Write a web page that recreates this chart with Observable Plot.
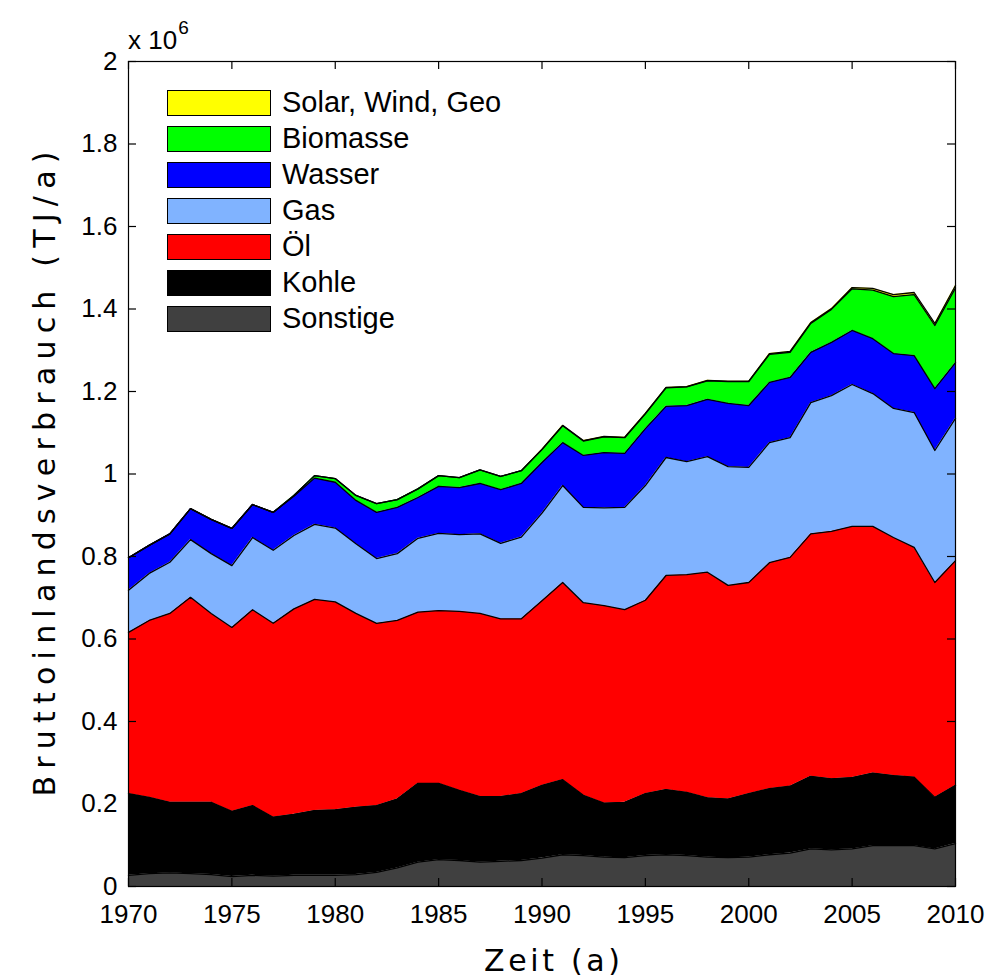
<!DOCTYPE html>
<html><head><meta charset="utf-8">
<script src="https://cdn.jsdelivr.net/npm/d3@7"></script>
<script src="https://cdn.jsdelivr.net/npm/@observablehq/plot@0.6"></script>
<style>
body{margin:0;background:#fff;}
#wrap{position:relative;width:991px;height:978px;font-family:"Liberation Sans",Arial,sans-serif;}
#leg{position:absolute;left:167px;top:89px;}
.row{display:flex;align-items:center;height:36px;}
.row:first-child{margin-top:-4.5px;}
.sw{width:102px;height:24px;border:1.5px solid #000;}
.lab{margin-left:11px;font-size:29px;color:#000;line-height:1;}
#exp{position:absolute;left:128px;top:22px;font-size:26px;color:#000;}
#exp sup{font-size:19px;position:relative;top:-5px;margin-left:1px;}
</style></head><body><div id="wrap"></div><script>
// years and series values (in 10^3 TJ/a)
const years = [1970,1971,1972,1973,1974,1975,1976,1977,1978,1979,1980,1981,1982,1983,1984,1985,1986,1987,1988,1989,1990,1991,1992,1993,1994,1995,1996,1997,1998,1999,2000,2001,2002,2003,2004,2005,2006,2007,2008,2009,2010];
const sonstige = [27,31,33,31,29,24,27,25,27,27, 27,29,34,45,59,65,63,59,61,63, 69,77,75,71,70,75,77,75,71,70, 71,77,81,91,89,91,99,99,99,91,104];
const kohle    = [198,185,171,173,175,158,169,143,148,157, 159,163,162,167,191,185,170,159,157,162, 176,182,146,131,134,150,158,153,144,142, 154,160,162,176,172,173,176,170,166,125,141];
const oel      = [391,429,458,497,458,446,475,470,498,512, 504,470,442,433,415,419,434,444,431,424, 448,478,467,479,467,469,519,528,547,518, 512,548,555,588,600,609,598,577,557,521,545];
const gas      = [102,114,124,140,145,150,175,177,178,182, 179,169,157,162,179,187,186,193,183,198, 212,235,231,237,248,278,286,274,280,288, 279,291,290,318,329,344,322,313,327,320,345];
const wasser   = [79,68,69,75,83,90,80,92,95,112, 111,105,112,112,99,114,114,122,130,130, 123,104,126,134,131,138,124,136,139,153, 150,146,146,122,129,131,133,133,138,150,135];
const biomasse = [0,0,0,0,0,0,0,0,2,6, 9,12,21,19,21,26,24,33,32,31, 31,41,35,38,38,36,45,45,45,53, 58,68,61,70,80,101,118,138,148,153,181];
const solar    = [0,0,0,0,0,0,0,0,0,0, 0,0,0,0,0,0,0,0,0,0, 1,1,1,1,1,1,1,1,1,1, 1,2,2,2,2,3,4,5,5,5,6];

const seriesNames = ["Sonstige","Kohle","Öl","Gas","Wasser","Biomasse","Solar, Wind, Geo"];
const seriesValues = [sonstige, kohle, oel, gas, wasser, biomasse, solar];
const seriesColors = ["#404040","#000000","#ff0000","#80b3ff","#0000ff","#00ff00","#ffff00"];
const xTicks = [1970,1975,1980,1985,1990,1995,2000,2005,2010];
const yTicks = [0,200000,400000,600000,800000,1000000,1200000,1400000,1600000,1800000,2000000];

const table = [];
seriesNames.forEach((name, i) => {
  years.forEach((yr, j) => table.push({year: yr, value: seriesValues[i][j] * 1e3, series: name}));
});

const W = 991, H = 978, ML = 128, MR = 36, MT = 61, MB = 92, TL = 8;
const frameW = W - ML - MR, frameH = H - MT - MB;

const plot = Plot.plot({
  width: W, height: H,
  marginLeft: ML, marginRight: MR, marginTop: MT, marginBottom: MB,
  style: {fontFamily: '"Liberation Sans", Arial, sans-serif', fontSize: "26px", color: "#000", background: "#fff"},
  x: {domain: [1970, 2010]},
  y: {domain: [0, 2000000]},
  color: {domain: seriesNames, range: seriesColors},
  marks: [
    Plot.areaY(table, {x: "year", y: "value", z: "series", fill: "series", order: seriesNames}),
    Plot.lineY(table, Plot.stackY2({x: "year", y: "value", z: "series", order: seriesNames, stroke: "#000", strokeWidth: 1.3})),
    // inward ticks on all four sides
    Plot.tickX(xTicks, {x: d => d, insetTop: frameH - TL, stroke: "#000", strokeWidth: 1.2}),
    Plot.tickX(xTicks, {x: d => d, insetBottom: frameH - TL, stroke: "#000", strokeWidth: 1.2}),
    Plot.tickY(yTicks, {y: d => d, insetRight: frameW - TL, stroke: "#000", strokeWidth: 1.2}),
    Plot.tickY(yTicks, {y: d => d, insetLeft: frameW - TL, stroke: "#000", strokeWidth: 1.2}),
    Plot.frame({stroke: "#000", strokeWidth: 1.2}),
    Plot.axisX({anchor: "bottom", ticks: xTicks, tickFormat: d => String(d), tickSize: 0, tickPadding: 18, label: "Zeit (a)", labelAnchor: "center", labelArrow: "none", labelOffset: 84}),
    Plot.axisY({anchor: "left", ticks: yTicks, tickFormat: d => String(d / 1e6), tickSize: 0, tickPadding: 11, label: "Bruttoinlandsverbrauch (TJ/a)", labelAnchor: "center", labelArrow: "none", labelOffset: 95})
  ]
});

const wrap = document.getElementById("wrap");
wrap.appendChild(plot);

// axis label styling
const xl = plot.querySelector('g[aria-label="x-axis label"] text');
const yl = plot.querySelector('g[aria-label="y-axis label"] text');
[xl, yl].forEach(t => { if (t) { t.style.fontFamily = '"DejaVu Sans", sans-serif'; t.style.fontSize = "30px"; } });
if (yl) { yl.setAttribute("textLength", 645); yl.setAttribute("lengthAdjust", "spacing"); }
if (xl) { xl.setAttribute("textLength", 136); xl.setAttribute("lengthAdjust", "spacing"); xl.setAttribute("dx", 10); }

// exponent label
const exp = document.createElement("div");
exp.id = "exp";
exp.innerHTML = "x 10<sup>6</sup>";
wrap.appendChild(exp);

// legend (top to bottom: reversed stacking order)
const leg = document.createElement("div");
leg.id = "leg";
seriesNames.slice().reverse().forEach(name => {
  const row = document.createElement("div"); row.className = "row";
  const sw = document.createElement("div"); sw.className = "sw";
  sw.style.background = seriesColors[seriesNames.indexOf(name)];
  const lab = document.createElement("span"); lab.className = "lab"; lab.textContent = name;
  row.appendChild(sw); row.appendChild(lab); leg.appendChild(row);
});
wrap.appendChild(leg);
</script></body></html>
